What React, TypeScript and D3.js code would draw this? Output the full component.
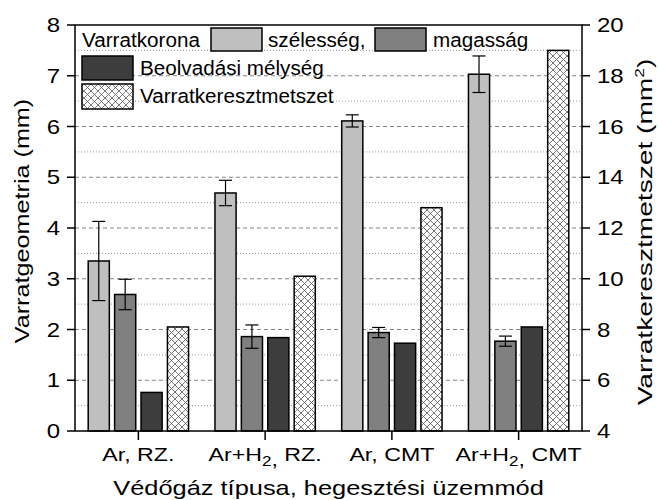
import React from 'react';
import * as d3 from 'd3';

// data
const categories = ['Ar, RZ.', 'Ar+H_2, RZ.', 'Ar, CMT', 'Ar+H_2, CMT'];
const szelesseg = [3.35, 4.69, 6.11, 7.03];
const szelessegErr = [0.78, 0.25, 0.12, 0.36];
const magassag = [2.69, 1.86, 1.94, 1.77];
const magassagErr = [0.3, 0.23, 0.1, 0.1];
const beolvadas = [0.76, 1.84, 1.73, 2.05];
const keresztmetszet = [8.1, 10.1, 12.8, 19.0]; // right axis, mm2
const leftTicks = [0, 1, 2, 3, 4, 5, 6, 7, 8];
const rightTicks = [4, 6, 8, 10, 12, 14, 16, 18, 20];

const W = 658;
const H = 500;
const margin = { top: 25, right: 76, bottom: 69, left: 75 };
const font = "Arial, 'Liberation Sans', sans-serif";

const seriesKeys = ['sz', 'ma', 'be', 'ke'];
const fills = { sz: '#bfbfbf', ma: '#808080', be: '#3d3d3d', ke: 'url(#xhatch)' };

const SText = ({ x, y, sx = 1, rot = 0, anchor = 'start', size = 20, children }: any) => (
    <g transform={`translate(${x},${y}) rotate(${rot}) scale(${sx},1)`}>
        <text textAnchor={anchor} fontSize={size} fontFamily={font} fill="#000">
            {children}
        </text>
    </g>
);

const catLabel = (s: string) => {
    const parts = s.split('_2');
    if (parts.length === 1) return s;
    return (
        <>
            {parts[0]}
            <tspan dy={5} fontSize={14}>2</tspan>
            <tspan>{parts[1].slice(0, 1)}</tspan>
            <tspan dy={-5}>{parts[1].slice(1)}</tspan>
        </>
    );
};

const App = () => {
    const x0 = margin.left;
    const x1 = W - margin.right;
    const yTop = margin.top;
    const yBot = H - margin.bottom;

    const x = d3.scaleBand<string>().domain(categories).range([x0, x1]).padding(0);
    const xs = d3.scaleBand<string>().domain(seriesKeys).range([0, x.bandwidth()])
        .paddingInner(0.2).paddingOuter(0.5);
    const y = d3.scaleLinear().domain([0, 8]).range([yBot, yTop]);
    const y2 = d3.scaleLinear().domain([4, 20]).range([yBot, yTop]);

    const majors = d3.range(1, 8);
    const minors = d3.range(0.5, 8, 1);

    const bars: any[] = [];
    categories.forEach((c, i) => {
        const vals = [
            { k: 'sz', top: y(szelesseg[i]), err: szelessegErr[i], v: szelesseg[i] },
            { k: 'ma', top: y(magassag[i]), err: magassagErr[i], v: magassag[i] },
            { k: 'be', top: y(beolvadas[i]), err: 0, v: beolvadas[i] },
            { k: 'ke', top: y2(keresztmetszet[i]), err: 0, v: keresztmetszet[i] },
        ];
        vals.forEach(d => bars.push({ ...d, cat: c, bx: (x(c) as number) + (xs(d.k) as number) }));
    });
    const bw = xs.bandwidth();

    return (
        <svg width={W} height={H} style={{ position: 'absolute', left: 0, top: 0, background: '#fff' }}>
            <defs>
                <pattern id="xhatch" width={7} height={7} patternUnits="userSpaceOnUse">
                    <rect width={7} height={7} fill="#fff" />
                    <path d="M0,0L7,7M7,0L0,7" stroke="#555" strokeWidth={0.8} />
                </pattern>
            </defs>

            {/* grid */}
            {minors.map(v => (
                <line key={'mi' + v} x1={x0} x2={x1} y1={y(v)} y2={y(v)}
                    stroke="#999" strokeWidth={1} strokeDasharray="1 2" />
            ))}
            {majors.map(v => (
                <line key={'ma' + v} x1={x0} x2={x1} y1={y(v)} y2={y(v)}
                    stroke="#666" strokeWidth={0.8} strokeDasharray="4 3" />
            ))}

            {/* bars */}
            {bars.map((b, i) => (
                <rect key={'b' + i} x={b.bx} y={b.top} width={bw} height={yBot - b.top}
                    fill={(fills as any)[b.k]} stroke="#000" strokeWidth={1.5} />
            ))}
            {bars.filter(b => b.err > 0).map((b, i) => {
                const cx = b.bx + bw / 2;
                const ya = y(b.v + b.err);
                const yb = y(b.v - b.err);
                return (
                    <g key={'e' + i} stroke="#000" strokeWidth={1.2}>
                        <line x1={cx} x2={cx} y1={ya} y2={yb} />
                        <line x1={cx - 6.5} x2={cx + 6.5} y1={ya} y2={ya} />
                        <line x1={cx - 6.5} x2={cx + 6.5} y1={yb} y2={yb} />
                    </g>
                );
            })}

            {/* frame */}
            <rect x={x0} y={yTop} width={x1 - x0} height={yBot - yTop} fill="none" stroke="#000" strokeWidth={1.5} />

            {/* left axis */}
            {leftTicks.map(t => (
                <g key={'lt' + t}>
                    <line x1={x0 - 8} x2={x0} y1={y(t)} y2={y(t)} stroke="#000" strokeWidth={1.5} />
                    <SText x={x0 - 15} y={y(t) + 7} anchor="end" sx={1.2}>{t}</SText>
                </g>
            ))}
            {/* right axis */}
            {rightTicks.map(t => (
                <g key={'rt' + t}>
                    <line x1={x1} x2={x1 + 8} y1={y2(t)} y2={y2(t)} stroke="#000" strokeWidth={1.5} />
                    <SText x={x1 + 15} y={y2(t) + 7} sx={1.2}>{t}</SText>
                </g>
            ))}
            {/* x axis */}
            {categories.map(c => {
                const cx = (x(c) as number) + x.bandwidth() / 2;
                return (
                    <g key={'xt' + c}>
                        <line x1={cx} x2={cx} y1={yBot} y2={yBot + 9} stroke="#000" strokeWidth={1.5} />
                        <SText x={cx} y={yBot + 30} anchor="middle" sx={1.22} size={19}>{catLabel(c)}</SText>
                    </g>
                );
            })}

            {/* axis titles */}
            <SText x={(x0 + x1) / 2} y={495} anchor="middle" sx={1.21} size={21}>Védőgáz típusa, hegesztési üzemmód</SText>
            <SText x={29} y={221} rot={-90} anchor="middle" sx={1.2} size={21}>Varratgeometria (mm)</SText>
            <SText x={652} y={232} rot={-90} anchor="middle" sx={1.34} size={21}>
                Varratkeresztmetszet (mm<tspan dy={-8} fontSize={13}>2</tspan><tspan dy={8}>)</tspan>
            </SText>

            {/* legend */}
            <g>
                <SText x={82} y={47} size={19.5} sx={1.06}>Varratkorona</SText>
                <rect x={211} y={28} width={51} height={23} fill={fills.sz} stroke="#000" strokeWidth={1.5} />
                <SText x={268} y={47} size={19.5} sx={1.06}>szélesség,</SText>
                <rect x={375} y={28} width={51} height={23} fill={fills.ma} stroke="#000" strokeWidth={1.5} />
                <SText x={433} y={47} size={19.5} sx={1.06}>magasság</SText>
                <rect x={82} y={56} width={51} height={24} fill={fills.be} stroke="#000" strokeWidth={1.5} />
                <SText x={140} y={75} size={19.5} sx={1.06}>Beolvadási mélység</SText>
                <rect x={82} y={84} width={51} height={25} fill={fills.ke} stroke="#000" strokeWidth={1.5} />
                <SText x={140} y={103} size={19.5} sx={1.06}>Varratkeresztmetszet</SText>
            </g>
        </svg>
    );
};

export default App;
